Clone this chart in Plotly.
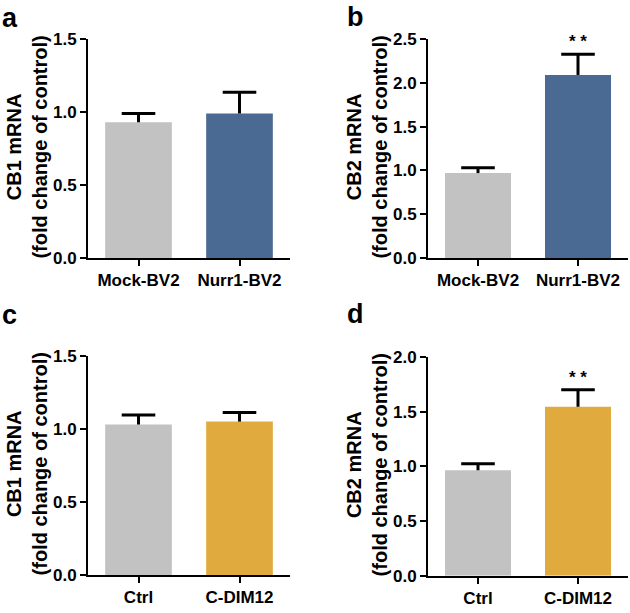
import plotly.graph_objects as go

# ---- data ----
cats_ab = ["Mock-BV2", "Nurr1-BV2"]
cats_cd = ["Ctrl", "C-DIM12"]
a_vals = [0.93, 0.99]
a_err = [0.06, 0.145]
b_vals = [0.97, 2.09]
b_err = [0.06, 0.235]
c_vals = [1.03, 1.05]
c_err = [0.065, 0.063]
d_vals = [0.965, 1.545]
d_err = [0.06, 0.155]
y_titles = ["CB1 mRNA", "CB2 mRNA", "CB1 mRNA", "CB2 mRNA"]
y_ranges = [1.5, 2.5, 1.5, 2.0]
panel_letters = ["a", "b", "c", "d"]
sig_text = "* *"

GRAY = "#c2c2c2"
BLUE = "#4b6a93"
ORANGE = "#e0aa3e"
FONT = "Liberation Sans, Arial, sans-serif"

W, H = 630, 613


def px_x(p):
    return p / W


def px_y(p):
    return 1 - p / H


panels = [
    dict(cats=cats_ab, vals=a_vals, err=a_err, colors=[GRAY, BLUE], x=(88, 290), y=(31, 257), let=(0, 20)),
    dict(cats=cats_ab, vals=b_vals, err=b_err, colors=[GRAY, BLUE], x=(428, 628), y=(31, 257), let=(345, 19)),
    dict(cats=cats_cd, vals=c_vals, err=c_err, colors=[GRAY, ORANGE], x=(88, 290), y=(358, 584), let=(0, 326)),
    dict(cats=cats_cd, vals=d_vals, err=d_err, colors=[GRAY, ORANGE], x=(428, 628), y=(359, 585), let=(345, 325)),
]

fig = go.Figure()
layout = dict(
    width=W, height=H, margin=dict(l=0, r=0, t=0, b=0),
    paper_bgcolor="white", plot_bgcolor="white", showlegend=False,
    font=dict(family=FONT, color="black"),
)
annotations = []

for i, p in enumerate(panels):
    n = "" if i == 0 else str(i + 1)
    xa, ya = "x" + n, "y" + n
    xs = list(range(len(p["cats"])))
    fig.add_trace(go.Bar(
        x=xs, y=p["vals"], width=0.66,
        marker=dict(color=p["colors"], line=dict(width=0)),
        xaxis=xa, yaxis=ya, hoverinfo="skip",
    ))
    # one-sided (upper) error bars: stem + cap
    stem_x, stem_y = [], []
    tops = []
    for xi, v, e in zip(xs, p["vals"], p["err"]):
        stem_x += [xi, xi, None]
        stem_y += [v, v + e, None]
        tops.append(v + e)
    fig.add_trace(go.Scatter(
        x=stem_x, y=stem_y, mode="lines", line=dict(color="black", width=3),
        xaxis=xa, yaxis=ya, hoverinfo="skip",
    ))
    fig.add_trace(go.Scatter(
        x=xs, y=tops, mode="markers",
        marker=dict(symbol="line-ew", size=24, line=dict(color="black", width=3)),
        xaxis=xa, yaxis=ya, hoverinfo="skip",
    ))
    layout["xaxis" + n] = dict(
        domain=[px_x(p["x"][0]), px_x(p["x"][1])], range=[-0.5, 1.5],
        tickmode="array", tickvals=xs, ticktext=p["cats"],
        showline=True, linecolor="black", linewidth=2, ticks="outside", ticklen=6,
        tickwidth=2, tickcolor="black", showgrid=False, zeroline=False, anchor=ya,
        tickfont=dict(family=FONT, size=17, weight="bold", color="black"),
        fixedrange=True,
    )
    layout["yaxis" + n] = dict(
        domain=[px_y(p["y"][1]), px_y(p["y"][0])], range=[0, y_ranges[i]],
        dtick=0.5, tickformat=".1f",
        showline=True, linecolor="black", linewidth=2, ticks="outside", ticklen=6,
        tickwidth=2, tickcolor="black", showgrid=False, zeroline=False, anchor=xa,
        tickfont=dict(family=FONT, size=17, weight="bold", color="black"),
        fixedrange=True,
    )
    # y-axis title
    ymid = px_y((p["y"][0] + p["y"][1]) / 2 - 1)
    annotations.append(dict(
        xref="paper", yref="paper", x=px_x(p["x"][0] - 61), y=ymid,
        text=y_titles[i] + "<br>(fold change of control)", textangle=-90,
        showarrow=False, xanchor="center", yanchor="middle",
        font=dict(family=FONT, size=20, weight="bold", color="black"),
    ))
    # panel letter
    annotations.append(dict(
        xref="paper", yref="paper", x=px_x(p["let"][0]), y=px_y(p["let"][1] + 7),
        text=panel_letters[i], showarrow=False, xanchor="left", yanchor="bottom",
        font=dict(family=FONT, size=27, weight="bold", color="black"),
    ))

# significance markers
for i in (1, 3):
    p = panels[i]
    n = str(i + 1)
    annotations.append(dict(
        xref="x" + n, yref="y" + n, x=1, y=p["vals"][1] + p["err"][1],
        text=sig_text, showarrow=False, xanchor="center", yanchor="bottom", yshift=1,
        font=dict(family=FONT, size=17, weight="bold", color="black"),
    ))

layout["annotations"] = annotations
fig.update_layout(**layout)
fig.write_html("out.html", config={"displayModeBar": False},
               post_script="document.body.style.margin='0';")
